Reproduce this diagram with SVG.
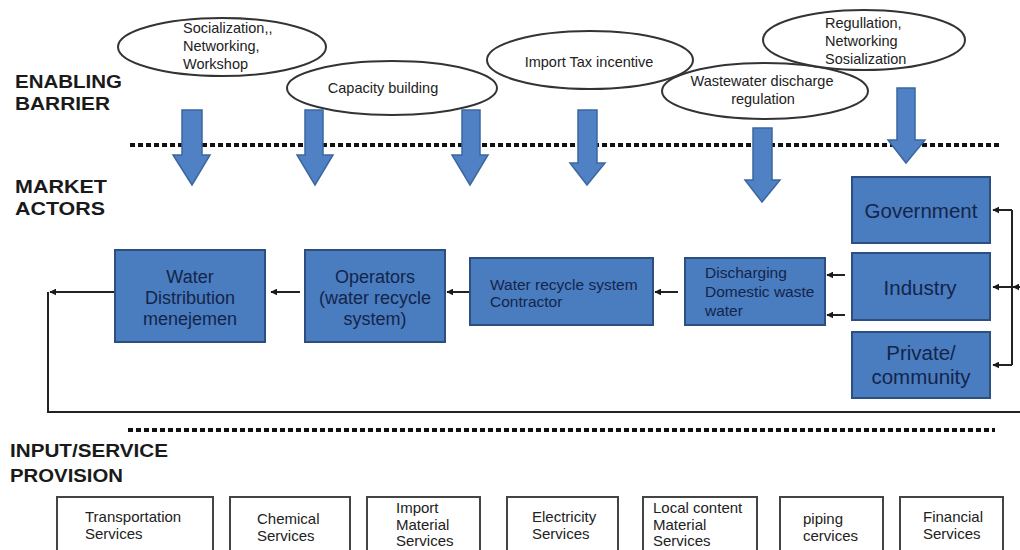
<svg xmlns="http://www.w3.org/2000/svg" width="1020" height="550" viewBox="0 0 1020 550">
<defs>
<marker id="ah" viewBox="0 0 10 10" refX="9" refY="5" markerWidth="7" markerHeight="7" markerUnits="userSpaceOnUse" orient="auto">
<path d="M0,0 L10,5 L0,10 z" fill="#1a1a1a"/>
</marker>
<style>
.lbl{font-family:"Liberation Sans",Arial,sans-serif;font-weight:bold;font-size:19px;fill:#1a1a1a}
.ell{fill:#fff;stroke:#333;stroke-width:2}
.et{font-family:"Liberation Sans",Arial,sans-serif;font-size:14.5px;fill:#222}
.barr{fill:#4f81c4;stroke:#3b679f;stroke-width:1.5}
.box{fill:#4a7cc0;stroke:#2c4f80;stroke-width:2}
.bt{font-family:"Liberation Sans",Arial,sans-serif;fill:#13254a}
.sbox{fill:#fff;stroke:#444;stroke-width:2}
.st{font-family:"Liberation Sans",Arial,sans-serif;font-size:15px;fill:#222}
.dot{stroke:#111;stroke-width:4;stroke-dasharray:5 3;fill:none}
.con{stroke:#222;stroke-width:2;fill:none}
</style>
</defs>
<rect width="1020" height="550" fill="#fff"/>

<g id="section-labels">
<text class="lbl" x="15" y="88" textLength="107" lengthAdjust="spacingAndGlyphs">ENABLING</text>
<text class="lbl" x="15" y="110" textLength="95" lengthAdjust="spacingAndGlyphs">BARRIER</text>
<text class="lbl" x="15" y="193" textLength="92" lengthAdjust="spacingAndGlyphs">MARKET</text>
<text class="lbl" x="15" y="215" textLength="90" lengthAdjust="spacingAndGlyphs">ACTORS</text>
<text class="lbl" x="10" y="457" textLength="158" lengthAdjust="spacingAndGlyphs">INPUT/SERVICE</text>
<text class="lbl" x="10" y="482" textLength="113" lengthAdjust="spacingAndGlyphs">PROVISION</text>
</g>

<g id="dividers">
<line class="dot" x1="130" y1="145" x2="1000" y2="145"/>
<line class="dot" x1="128" y1="430" x2="995" y2="430"/>
</g>

<g id="e-socialization">
<ellipse class="ell" cx="222" cy="47" rx="104" ry="29"/>
<text class="et" x="183" y="33">Socialization,,</text>
<text class="et" x="183" y="51">Networking,</text>
<text class="et" x="183" y="69">Workshop</text>
</g>
<g id="e-capacity">
<ellipse class="ell" cx="392" cy="88" rx="105" ry="27"/>
<text class="et" x="383" y="93" text-anchor="middle">Capacity building</text>
</g>
<g id="e-importtax">
<ellipse class="ell" cx="590" cy="60" rx="103" ry="29"/>
<text class="et" x="589" y="67" text-anchor="middle">Import Tax incentive</text>
</g>
<g id="e-wastewater">
<ellipse class="ell" cx="765" cy="91" rx="103" ry="28"/>
<text class="et" x="762" y="86" text-anchor="middle">Wastewater discharge</text>
<text class="et" x="763" y="104" text-anchor="middle">regulation</text>
</g>
<g id="e-regulation">
<ellipse class="ell" cx="864" cy="40" rx="101" ry="30"/>
<text class="et" x="825" y="28">Regullation,</text>
<text class="et" x="825" y="46">Networking</text>
<text class="et" x="825" y="64">Sosialization</text>
</g>

<g id="barrier-arrows">
<path class="barr" d="M182,110 H202 V155 H210 L192,185 L173,155 H182 Z"/>
<path class="barr" d="M305,110 H323 V155 H333 L315,185 L297,155 H305 Z"/>
<path class="barr" d="M462,110 H480 V155 H488 L470,185 L452,155 H462 Z"/>
<path class="barr" d="M578,110 H597 V163 H605 L587,185 L570,163 H578 Z"/>
<path class="barr" d="M753,128 H772 V180 H780 L762,202 L745,180 H753 Z"/>
<path class="barr" d="M897,88 H915 V140 H925 L906,163 L888,140 H897 Z"/>
</g>

<g id="connectors">
<line class="con" x1="115" y1="292" x2="50" y2="292" marker-end="url(#ah)"/>
<polyline class="con" points="1020,412 48,412 48,292"/>
<line class="con" x1="300" y1="292" x2="271" y2="292" marker-end="url(#ah)"/>
<line class="con" x1="470" y1="292" x2="447" y2="292" marker-end="url(#ah)"/>
<line class="con" x1="678" y1="292" x2="655" y2="292" marker-end="url(#ah)"/>
<line class="con" x1="845" y1="275" x2="827" y2="275" marker-end="url(#ah)"/>
<line class="con" x1="845" y1="315" x2="827" y2="315" marker-end="url(#ah)"/>
<line class="con" x1="1012" y1="210" x2="1012" y2="365"/>
<line class="con" x1="1012" y1="210" x2="993" y2="210" marker-end="url(#ah)"/>
<line class="con" x1="1012" y1="287" x2="993" y2="287" marker-end="url(#ah)"/>
<line class="con" x1="1012" y1="365" x2="993" y2="365" marker-end="url(#ah)"/>
<line class="con" x1="1022" y1="287" x2="1013" y2="287" marker-end="url(#ah)"/>
</g>

<g id="n-waterdist">
<rect class="box" x="115" y="250" width="150" height="92"/>
<text class="bt" font-size="18" text-anchor="middle" x="190" y="283">Water</text>
<text class="bt" font-size="18" text-anchor="middle" x="190" y="304">Distribution</text>
<text class="bt" font-size="18" text-anchor="middle" x="190" y="325">menejemen</text>
</g>
<g id="n-operators">
<rect class="box" x="305" y="250" width="140" height="92"/>
<text class="bt" font-size="18" text-anchor="middle" x="375" y="283">Operators</text>
<text class="bt" font-size="18" text-anchor="middle" x="375" y="304">(water recycle</text>
<text class="bt" font-size="18" text-anchor="middle" x="375" y="325">system)</text>
</g>
<g id="n-contractor">
<rect class="box" x="470" y="258" width="183" height="67"/>
<text class="bt" font-size="15.5" x="490" y="290">Water recycle system</text>
<text class="bt" font-size="15.5" x="490" y="307">Contractor</text>
</g>
<g id="n-discharging">
<rect class="box" x="685" y="258" width="140" height="67"/>
<text class="bt" font-size="15.5" x="705" y="278">Discharging</text>
<text class="bt" font-size="15.5" x="705" y="297">Domestic waste</text>
<text class="bt" font-size="15.5" x="705" y="316">water</text>
</g>
<g id="n-government">
<rect class="box" x="852" y="177" width="138" height="66"/>
<text class="bt" font-size="20.5" text-anchor="middle" x="921" y="218">Government</text>
</g>
<g id="n-industry">
<rect class="box" x="852" y="253" width="138" height="67"/>
<text class="bt" font-size="20.5" text-anchor="middle" x="920" y="295">Industry</text>
</g>
<g id="n-private">
<rect class="box" x="852" y="332" width="138" height="66"/>
<text class="bt" font-size="20.5" text-anchor="middle" x="921" y="360">Private/</text>
<text class="bt" font-size="20.5" text-anchor="middle" x="921" y="384">community</text>
</g>

<g id="s-transport">
<rect class="sbox" x="57" y="497" width="156" height="70"/>
<text class="st" x="85" y="522">Transportation</text>
<text class="st" x="85" y="539">Services</text>
</g>
<g id="s-chemical">
<rect class="sbox" x="230" y="497" width="120" height="70"/>
<text class="st" x="257" y="524">Chemical</text>
<text class="st" x="257" y="541">Services</text>
</g>
<g id="s-import">
<rect class="sbox" x="367" y="497" width="113" height="70"/>
<text class="st" x="396" y="513">Import</text>
<text class="st" x="396" y="530">Material</text>
<text class="st" x="396" y="546">Services</text>
</g>
<g id="s-electricity">
<rect class="sbox" x="507" y="497" width="111" height="70"/>
<text class="st" x="532" y="522">Electricity</text>
<text class="st" x="532" y="539">Services</text>
</g>
<g id="s-local">
<rect class="sbox" x="643" y="497" width="114" height="70"/>
<text class="st" x="653" y="513">Local content</text>
<text class="st" x="653" y="530">Material</text>
<text class="st" x="653" y="546">Services</text>
</g>
<g id="s-piping">
<rect class="sbox" x="780" y="497" width="103" height="70"/>
<text class="st" x="803" y="524">piping</text>
<text class="st" x="803" y="541">cervices</text>
</g>
<g id="s-financial">
<rect class="sbox" x="900" y="497" width="103" height="70"/>
<text class="st" x="923" y="522">Financial</text>
<text class="st" x="923" y="539">Services</text>
</g>
</svg>
